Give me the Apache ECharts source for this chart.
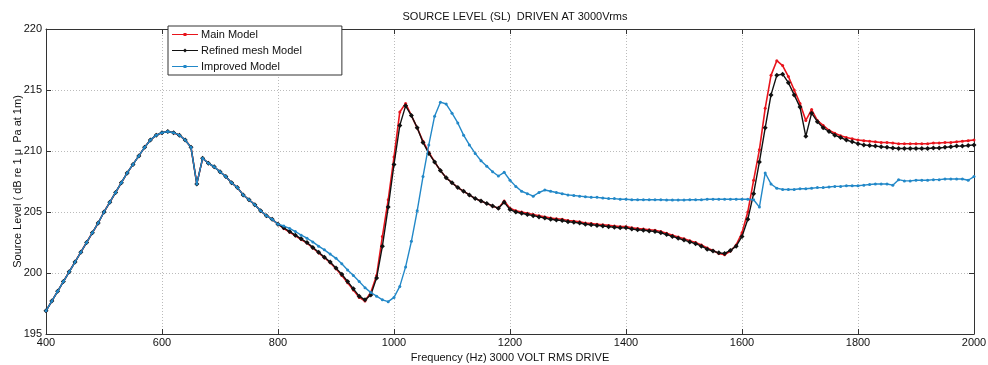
<!DOCTYPE html>
<html>
<head>
<meta charset="utf-8">
<script src="https://cdn.jsdelivr.net/npm/echarts@6/dist/echarts.min.js"></script>
<style>
html,body{margin:0;padding:0;background:#fff;}
#chart{width:988px;height:365px;}
</style>
</head>
<body>
<div id="chart"></div>
<script>
const freq = [400,410,420,430,440,450,460,470,480,490,500,510,520,530,540,550,560,570,580,590,
600,610,620,630,640,650,660,670,680,690,700,710,720,730,740,750,760,770,780,790,
800,810,820,830,840,850,860,870,880,890,900,910,920,930,940,950,960,970,980,990,
1000,1010,1020,1030,1040,1050,1060,1070,1080,1090,1100,1110,1120,1130,1140,1150,1160,1170,1180,1190,
1200,1210,1220,1230,1240,1250,1260,1270,1280,1290,1300,1310,1320,1330,1340,1350,1360,1370,1380,1390,
1400,1410,1420,1430,1440,1450,1460,1470,1480,1490,1500,1510,1520,1530,1540,1550,1560,1570,1580,1590,
1600,1610,1620,1630,1640,1650,1660,1670,1680,1690,1700,1710,1720,1730,1740,1750,1760,1770,1780,1790,
1800,1810,1820,1830,1840,1850,1860,1870,1880,1890,1900,1910,1920,1930,1940,1950,1960,1970,1980,1990,2000];

const mainModel = [196.9,197.7,198.5,199.3,200.1,200.9,201.7,202.5,203.3,204.1,205.0,205.8,206.6,207.4,208.2,208.9,209.6,210.3,210.9,211.3,
211.5,211.6,211.5,211.3,210.9,210.3,207.3,209.4,209.0,208.7,208.3,207.9,207.4,207.0,206.4,206.0,205.6,205.1,204.7,204.4,
204.0,203.65,203.35,203.05,202.75,202.45,202.05,201.65,201.25,200.85,200.35,199.8,199.2,198.6,198.0,197.7,198.4,199.8,203.0,206.0,
209.5,213.2,213.9,212.9,211.9,210.8,209.9,209.1,208.4,207.8,207.4,207.0,206.7,206.4,206.1,205.9,205.7,205.5,205.3,205.9,
205.3,205.1,205.0,204.9,204.8,204.7,204.6,204.5,204.45,204.4,204.3,204.25,204.2,204.1,204.05,204.0,203.95,203.9,203.85,203.8,
203.8,203.7,203.65,203.6,203.55,203.5,203.4,203.25,203.1,202.95,202.8,202.65,202.5,202.3,202.05,201.85,201.6,201.5,201.8,202.3,
203.3,205.0,207.6,210.1,213.5,216.2,217.4,217.0,216.1,215.0,213.9,212.5,213.4,212.5,212.1,211.7,211.45,211.25,211.1,211.0,
210.9,210.85,210.8,210.75,210.7,210.7,210.65,210.6,210.6,210.6,210.6,210.6,210.6,210.65,210.65,210.7,210.7,210.75,210.8,210.85,210.9];

const refinedMesh = [196.9,197.7,198.5,199.3,200.1,200.9,201.7,202.5,203.3,204.1,205.0,205.8,206.6,207.4,208.2,208.9,209.6,210.3,210.9,211.3,
211.5,211.6,211.5,211.3,210.9,210.3,207.3,209.4,209.0,208.7,208.3,207.9,207.4,207.0,206.4,206.0,205.6,205.1,204.7,204.4,
204.0,203.7,203.4,203.1,202.8,202.5,202.1,201.7,201.3,200.9,200.4,199.9,199.3,198.7,198.1,197.8,198.2,199.6,202.2,205.4,
208.9,212.1,213.7,212.9,211.9,210.7,209.8,209.1,208.4,207.8,207.4,207.0,206.7,206.4,206.1,205.9,205.7,205.5,205.3,205.8,
205.2,205.0,204.9,204.8,204.7,204.6,204.5,204.4,204.35,204.3,204.2,204.15,204.1,204.0,203.95,203.9,203.85,203.8,203.75,203.7,
203.7,203.6,203.55,203.5,203.45,203.4,203.3,203.15,203.0,202.85,202.7,202.55,202.4,202.2,201.95,201.8,201.65,201.6,201.85,202.2,
203.0,204.4,206.5,209.1,211.9,214.6,216.2,216.3,215.6,214.6,213.6,211.2,213.1,212.4,211.9,211.6,211.3,211.1,210.9,210.75,
210.6,210.5,210.45,210.4,210.35,210.3,210.25,210.2,210.2,210.2,210.2,210.2,210.2,210.25,210.25,210.3,210.35,210.4,210.4,210.45,210.5];

const improvedModel = [196.9,197.7,198.5,199.3,200.1,200.9,201.7,202.5,203.3,204.1,205.0,205.8,206.6,207.4,208.2,208.9,209.6,210.3,210.9,211.3,
211.5,211.6,211.5,211.3,210.9,210.3,207.3,209.4,209.0,208.7,208.3,207.9,207.4,207.0,206.4,206.0,205.6,205.1,204.7,204.4,
204.0,203.85,203.65,203.4,203.1,202.85,202.55,202.2,201.9,201.55,201.2,200.75,200.25,199.8,199.3,198.8,198.4,198.1,197.8,197.65,
198.0,198.9,200.5,202.6,205.1,207.9,210.5,212.85,214.0,213.85,213.1,212.3,211.3,210.5,209.8,209.2,208.75,208.3,207.95,208.25,
207.6,207.1,206.7,206.5,206.3,206.6,206.8,206.7,206.6,206.5,206.4,206.35,206.3,206.25,206.2,206.2,206.15,206.1,206.1,206.05,
206.05,206.0,206.0,206.0,206.0,206.0,206.0,205.98,205.98,205.98,205.98,206.0,206.0,206.0,206.05,206.05,206.05,206.05,206.05,206.05,
206.05,206.05,206.0,205.4,208.2,207.3,206.95,206.85,206.85,206.85,206.9,206.9,206.95,207.0,207.0,207.05,207.1,207.1,207.15,207.15,
207.15,207.2,207.25,207.3,207.3,207.3,207.2,207.65,207.55,207.55,207.6,207.6,207.6,207.65,207.65,207.7,207.7,207.7,207.7,207.6,207.9];

const FONT = 'Liberation Sans';
const chart = echarts.init(document.getElementById('chart'), null, {renderer:'canvas'});

function pairs(ys){ return freq.map((f,i)=>[f, ys[i]]); }

const axisCommon = {
  axisLine:{show:true, onZero:false, lineStyle:{color:'#333', width:1}},
  axisTick:{show:true, inside:true, length:5, lineStyle:{color:'#333'}},
  splitLine:{show:false},
};
const gridLine = {show:true, lineStyle:{color:'#bbb', type:[1,2], width:1}};
const dotIcon = 'path://M0,1.6H26V2.4H0Z M11.5,0.5H14.5V3.5H11.5Z';
const diaIcon = 'path://M0,1.6H26V2.4H0Z M13,0L15,2L13,4L11,2Z';

chart.setOption({
  animation:false,
  backgroundColor:'#fff',
  title:{
    text:'SOURCE LEVEL (SL)  DRIVEN AT 3000Vrms',
    left:510, top:6, textAlign:'center',
    textStyle:{fontFamily:FONT, fontSize:11, fontWeight:'normal', color:'#111'}
  },
  legend:{
    orient:'vertical', left:168, top:26,
    backgroundColor:'#fff', borderColor:'#333', borderWidth:1,
    padding:[2,40,2,4], itemGap:3, itemWidth:26, itemHeight:4,
    textStyle:{fontFamily:FONT, fontSize:11, color:'#111', padding:[0,0,0,-2], lineHeight:13},
    data:[
      {name:'Main Model', icon:dotIcon},
      {name:'Refined mesh Model', icon:diaIcon},
      {name:'Improved Model', icon:dotIcon}
    ]
  },
  grid:{left:46, right:14, top:29, bottom:31, containLabel:false, outerBoundsMode:'none'},
  xAxis:[
    Object.assign({}, axisCommon, {
      type:'value', min:400, max:2000, interval:200, position:'bottom',
      name:'Frequency (Hz) 3000 VOLT RMS DRIVE', nameLocation:'middle', nameGap:16,
      nameTextStyle:{fontFamily:FONT, fontSize:11, color:'#111'},
      axisLabel:{fontFamily:FONT, fontSize:11, color:'#111', margin:3, formatter:v=>String(v)},
      splitLine:gridLine
    }),
    Object.assign({}, axisCommon, {
      type:'value', min:400, max:2000, interval:200, position:'top',
      axisLabel:{show:false}
    })
  ],
  yAxis:[
    Object.assign({}, axisCommon, {
      type:'value', min:195, max:220, interval:5, position:'left',
      name:'Source Level ( dB re 1 \u03bc  Pa at 1m)', nameLocation:'middle', nameGap:23,
      nameMoveOverlap:false,
      nameTextStyle:{fontFamily:FONT, fontSize:11, color:'#111'},
      axisLabel:{fontFamily:FONT, fontSize:11, color:'#111', margin:4, formatter:v=>String(v)},
      splitLine:gridLine
    }),
    Object.assign({}, axisCommon, {
      type:'value', min:195, max:220, interval:5, position:'right',
      axisLabel:{show:false}
    })
  ],
  series:[
    {name:'Main Model', type:'line', data:pairs(mainModel), color:'#e8141c',
     symbol:'circle', symbolSize:3, showAllSymbol:true, lineStyle:{width:1.6}, z:2},
    {name:'Refined mesh Model', type:'line', data:pairs(refinedMesh), color:'#111',
     symbol:'diamond', symbolSize:5, showAllSymbol:true, lineStyle:{width:1.4}, z:3},
    {name:'Improved Model', type:'line', data:pairs(improvedModel), color:'#2288c8',
     symbol:'circle', symbolSize:3, showAllSymbol:true, lineStyle:{width:1.4}, z:4}
  ]
});
</script>
</body>
</html>
